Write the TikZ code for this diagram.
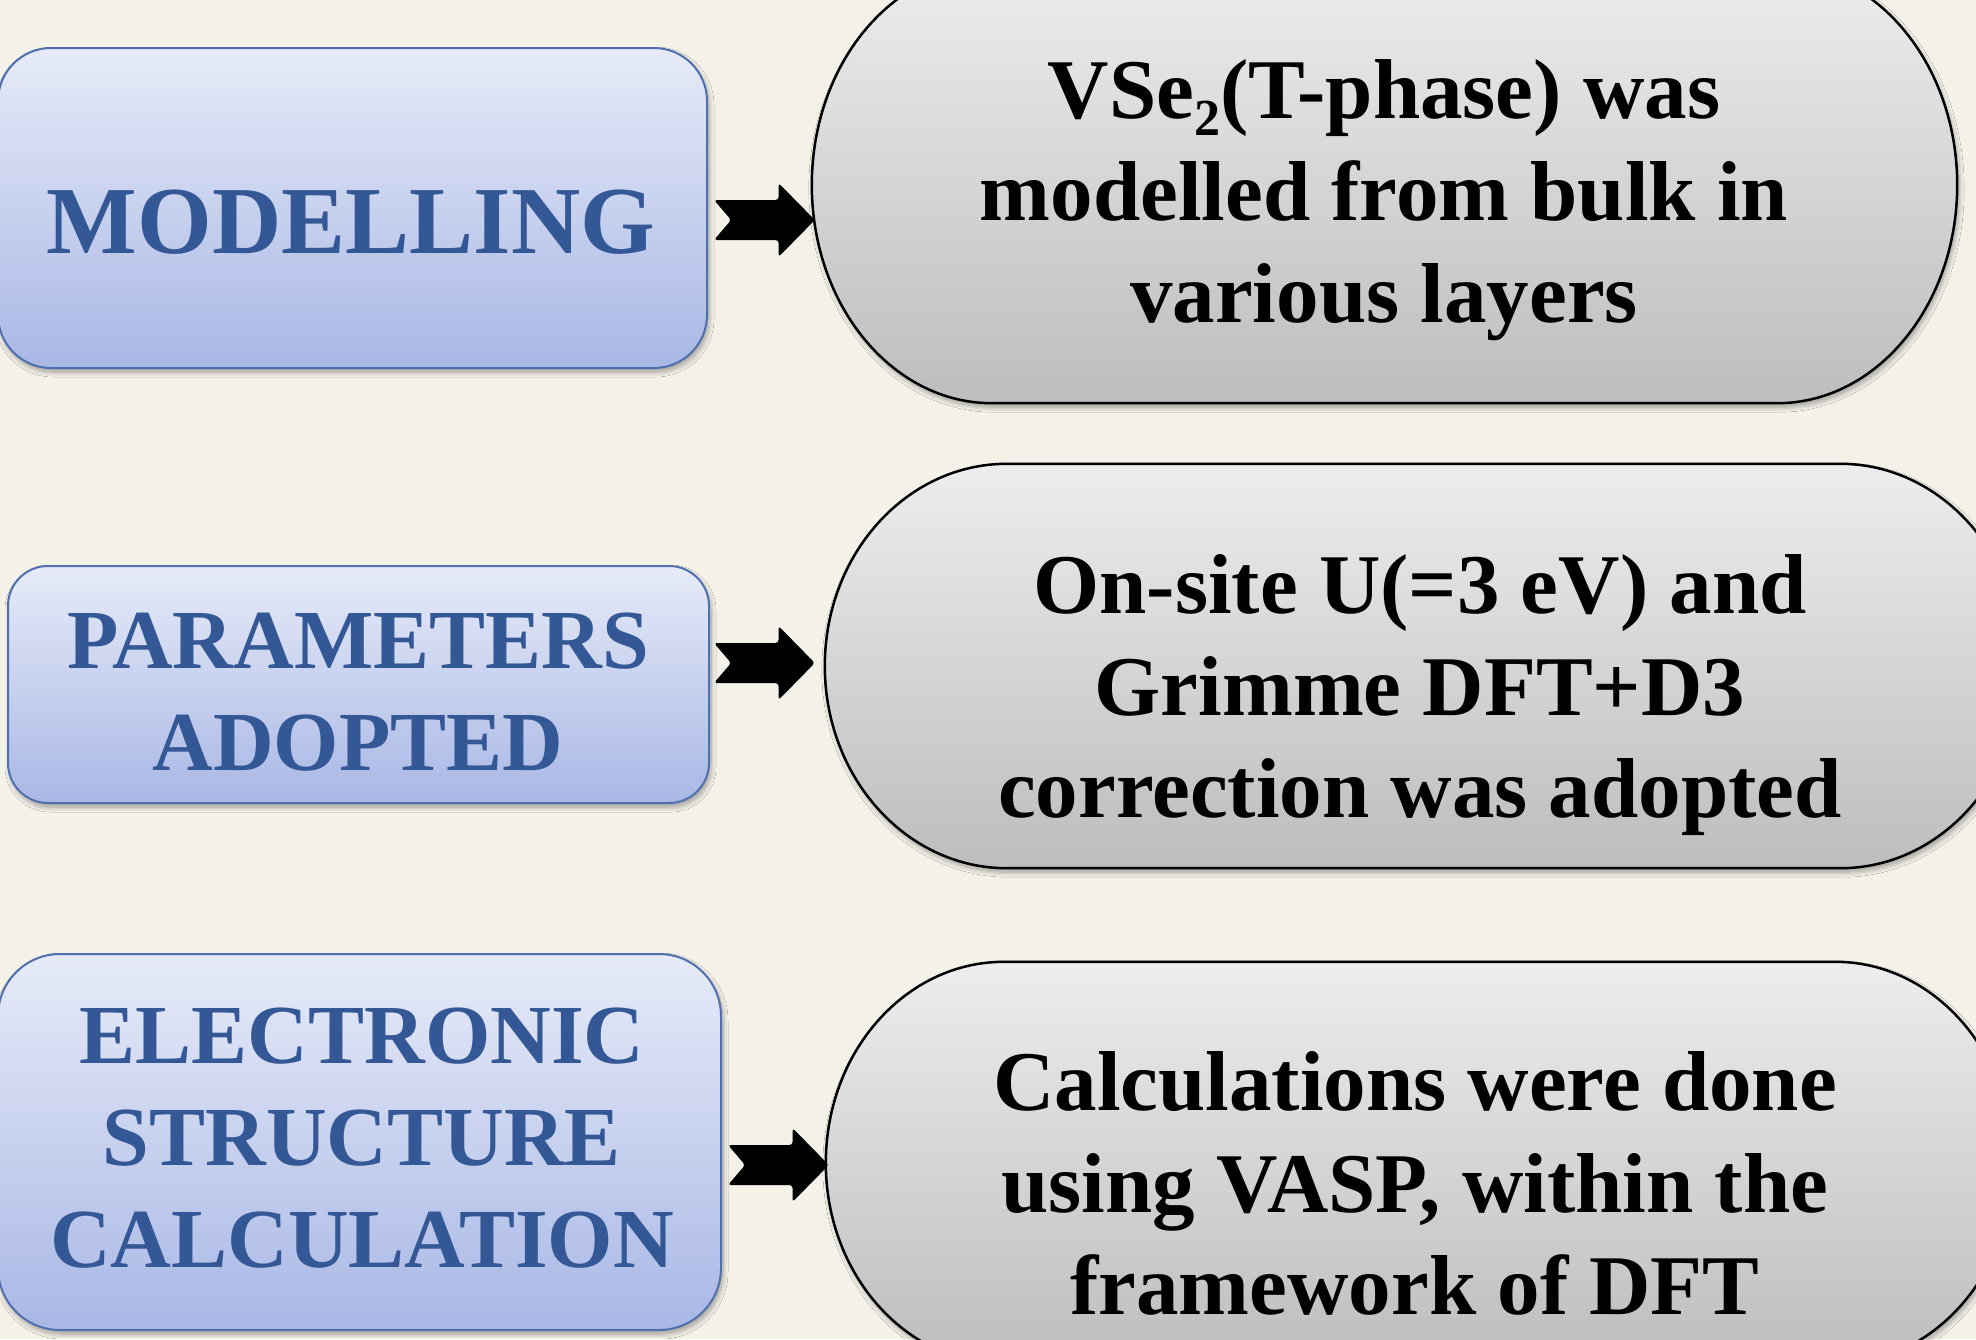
\documentclass[tikz,border=0pt]{standalone}
\usepackage{fontspec}
\setmainfont{Liberation Serif}
\usetikzlibrary{calc,shadows.blur}

\definecolor{paper}{RGB}{244,241,233}
\definecolor{boxtop}{RGB}{231,235,248}
\definecolor{boxbottom}{RGB}{168,183,229}
\definecolor{boxrule}{RGB}{80,111,174}
\definecolor{boxink}{RGB}{52,88,150}
\definecolor{pilltop}{RGB}{237,237,237}
\definecolor{pillbottom}{RGB}{189,189,189}

\tikzset{
  softshadow/.style={blur shadow={shadow xshift=2pt, shadow yshift=-4pt,
      shadow blur radius=5pt, shadow blur steps=8, shadow opacity=35}},
  stagebox/.style={rectangle, inner sep=0pt, draw=boxrule, line width=2pt,
      top color=boxtop, bottom color=boxbottom, softshadow},
  stagelabel/.style={align=center, inner sep=0pt, text=boxink,
      font=\bfseries\fontsize{84}{102}\selectfont},
  pillframe/.style={rectangle, inner sep=0pt, draw=none},
  pill/.style={draw=black, line width=2.5pt, top color=pilltop,
      bottom color=pillbottom, softshadow},
  pilltext/.style={align=center, inner sep=0pt, text=black,
      font=\bfseries\fontsize{85}{102}\selectfont},
  arrowink/.style={fill=black, rounded corners=3pt},
}

% stadium outline with elliptical ends around the frame of node #1;
% #2 is the horizontal radius of the ends
\newcommand\stadiumpath[2]{%
  \path[pill] let \p1=(#1.south west), \p2=(#1.north east),
      \n1={#2}, \n2={(\y2-\y1)/2} in
    (\x1+\n1,\y2) -- (\x2-\n1,\y2)
    arc[start angle=90, end angle=-90, x radius=\n1, y radius=\n2]
    -- (\x1+\n1,\y1)
    arc[start angle=270, end angle=90, x radius=\n1, y radius=\n2] -- cycle;}

% notched block arrow from the tail point #1 to the tip point #2
\newcommand\notcharrow[2]{%
  \fill[arrowink] let \p1=(#1), \p2=(#2), \n1={\x2-\x1} in
    (\x1,\y1+20pt) -- (\x1+0.64*\n1,\y1+20pt) -- (\x1+0.64*\n1,\y1+37pt)
    -- (\x2,\y1) -- (\x1+0.64*\n1,\y1-37pt) -- (\x1+0.64*\n1,\y1-20pt)
    -- (\x1,\y1-20pt) -- (\x1+0.17*\n1,\y1) -- cycle;}

\begin{document}
\begin{tikzpicture}[x=1pt,y=-1pt]
\useasboundingbox (0,0) rectangle (1976,1339);
\fill[paper] (0,0) rectangle (1976,1339);
\clip (0,0) rectangle (1976,1339);

% stage boxes on the left
\node[stagebox, minimum width=709pt, minimum height=320pt, rounded corners=53pt]
  (b1) at (352.5,208) {};
\node[stagebox, minimum width=701pt, minimum height=237pt, rounded corners=40pt]
  (b2) at (358.5,684.5) {};
\node[stagebox, minimum width=723pt, minimum height=376pt, rounded corners=62pt]
  (b3) at (359.5,1142) {};

\node[stagelabel, font=\bfseries\fontsize{96}{102}\selectfont]
  (b1t) at (351,232.6) {\strut MODELLING};
\node[stagelabel] (b2t) at (358,698.6) {\strut PARAMETERS\\\strut ADOPTED};
\node[stagelabel] (b3t) at (362,1145)
  {\strut ELECTRONIC\\\strut STRUCTURE\\\strut CALCULATION};

% description pills on the right
\node[pillframe, minimum width=1145pt, minimum height=436pt] (s1) at (1384.5,185) {};
\stadiumpath{s1}{180pt}
\node[pilltext] (s1t) at (1384,199.6)
  {\strut VSe\raisebox{-17pt}{\fontsize{52}{52}\selectfont 2}(T-phase) was\\
   \strut modelled from bulk in\\\strut various layers};

\node[pillframe, minimum width=1197pt, minimum height=404pt] (s2) at (1423.5,666) {};
\stadiumpath{s2}{182pt}
\node[pilltext] (s2t) at (1420,694.6)
  {\strut On-site U(=3 eV) and\\\strut Grimme DFT+D3\\\strut correction was adopted};

\node[pillframe, minimum width=1187pt, minimum height=402pt] (s3) at (1419.5,1163) {};
\stadiumpath{s3}{178pt}
\node[pilltext] (s3t) at (1415,1192)
  {\strut Calculations were done\\\strut using VASP, within the\\\strut framework of DFT};

% arrows from each stage to its description
\coordinate (a1s) at ($(b1.east |- 0,220)+(6,0)$);
\coordinate (a1e) at ($(s1.west |- 0,220)+(3,0)$);
\coordinate (a2s) at ($(b2.east |- 0,663)+(4,0)$);
\coordinate (a2e) at ($(s2.west |- 0,663)+(-10,0)$);
\coordinate (a3s) at ($(b3.east |- 0,1165)+(6,0)$);
\coordinate (a3e) at ($(s3.west |- 0,1165)+(3,0)$);
\notcharrow{a1s}{a1e}
\notcharrow{a2s}{a2e}
\notcharrow{a3s}{a3e}
\end{tikzpicture}
\end{document}
